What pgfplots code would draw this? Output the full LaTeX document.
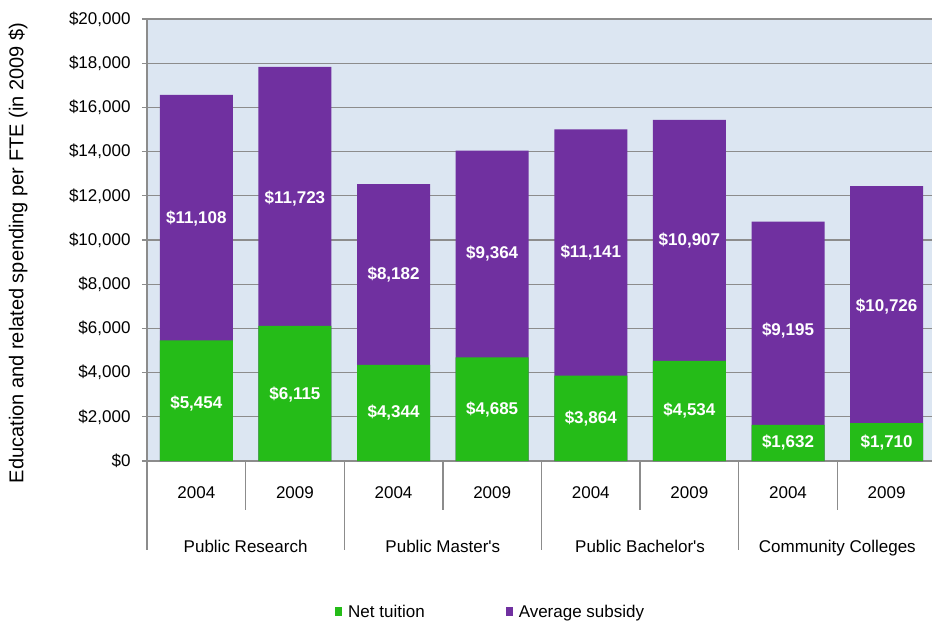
\documentclass[border=0pt]{standalone}
\usepackage{fontspec}
\setmainfont{Liberation Sans}
\usepackage{pgfplots}
\pgfplotsset{compat=1.18}
\definecolor{tuit}{HTML}{25BC18}
\definecolor{subs}{HTML}{7030A0}
\definecolor{bgc}{HTML}{DCE6F2}
\definecolor{gridc}{HTML}{8C8C8C}
\begin{document}
\begin{tikzpicture}
\begin{axis}[
 name=main,
 scale only axis, width=785pt, height=442pt,
 xmin=-0.5, xmax=7.46, ymin=0, ymax=20000,
 clip=false,
 axis x line*=bottom, axis y line*=left,
 axis line style={gridc, line width=1.3pt},
 axis background/.style={fill=bgc},
 ymajorgrids, grid style={gridc, line width=1.3pt},
 ytick={0,2000,...,20000},
 scaled y ticks=false,
 yticklabel={\$\pgfmathprintnumber{\tick}},
 /pgf/number format/fixed,
 /pgf/number format/1000 sep={,},
 /pgf/number format/assume math mode=true,
 tick align=outside, major tick length=5pt,
 ytick style={gridc, line width=1.3pt},
 xtick style={draw=none},
 xtick={0,...,7},
 xticklabels={2004,2009,2004,2009,2004,2009,2004,2009},
 xticklabel style={anchor=center, yshift=-27pt},
 yticklabel style={xshift=-8pt},
 tick label style={font=\fontsize{17}{20}\selectfont},
 ylabel={Education and related spending per FTE (in 2009 \$)},
 ylabel style={at={(axis description cs:-0.1643,0.4706)}, anchor=center, font=\fontsize{20}{22}\selectfont},
 legend columns=2,
 reverse legend,
 legend style={at={(axis description cs:0.2395,-0.3416)}, anchor=west, draw=none, fill=none,
   font=\fontsize{17}{20}\selectfont, inner sep=0pt,
   /tikz/every odd column/.append style={column sep=4pt},
   /tikz/every even column/.append style={column sep=79pt}},
]
\addplot[ybar, bar width=73pt, bar shift=0pt, fill=subs, draw=none,
  legend image code/.code={\fill[subs] (0pt,-4.5pt) rectangle (7pt,4.5pt);}]
  coordinates {(0,16562) (1,17838) (2,12526) (3,14049) (4,15005) (5,15441) (6,10827) (7,12436)};
\addlegendentry{Average subsidy}
\addplot[ybar, bar width=73pt, bar shift=0pt, fill=tuit, draw=none,
  legend image code/.code={\fill[tuit] (0pt,-4.5pt) rectangle (7pt,4.5pt);}]
  coordinates {(0,5454) (1,6115) (2,4344) (3,4685) (4,3864) (5,4534) (6,1632) (7,1710)};
\addlegendentry{Net tuition}
\addplot[draw=none, mark=none, forget plot, nodes near coords, point meta=explicit symbolic,
  nodes near coords align=center,
  every node near coord/.append style={font=\bfseries\fontsize{17}{20}\selectfont, text=white}]
  coordinates {(0,2600) [\$5,454] (1,3000) [\$6,115] (2,2172) [\$4,344] (3,2342) [\$4,685]
               (4,1932) [\$3,864] (5,2267) [\$4,534] (6,816) [\$1,632] (7,855) [\$1,710]};
\addplot[draw=none, mark=none, forget plot, nodes near coords, point meta=explicit symbolic,
  nodes near coords align=center,
  every node near coord/.append style={font=\bfseries\fontsize{17}{20}\selectfont, text=white}]
  coordinates {(0,10950) [\$11,108] (1,11900) [\$11,723] (2,8435) [\$8,182] (3,9367) [\$9,364]
               (4,9434) [\$11,141] (5,9987) [\$10,907] (6,5900) [\$9,195] (7,7000) [\$10,726]};
\draw[gridc, line width=1.3pt] (axis cs:-0.5,0) -- ([yshift=-89pt]axis cs:-0.5,0);
\draw[gridc, line width=1.3pt] (axis cs:1.5,0) -- ([yshift=-89pt]axis cs:1.5,0);
\draw[gridc, line width=1.3pt] (axis cs:3.5,0) -- ([yshift=-89pt]axis cs:3.5,0);
\draw[gridc, line width=1.3pt] (axis cs:5.5,0) -- ([yshift=-89pt]axis cs:5.5,0);
\draw[gridc, line width=1.3pt] (axis cs:0.5,0) -- ([yshift=-49pt]axis cs:0.5,0);
\draw[gridc, line width=1.3pt] (axis cs:2.5,0) -- ([yshift=-49pt]axis cs:2.5,0);
\draw[gridc, line width=1.3pt] (axis cs:4.5,0) -- ([yshift=-49pt]axis cs:4.5,0);
\draw[gridc, line width=1.3pt] (axis cs:6.5,0) -- ([yshift=-49pt]axis cs:6.5,0);
\node[anchor=base, font=\fontsize{17}{20}\selectfont] at ([yshift=-91pt]axis cs:0.5,0) {Public Research};
\node[anchor=base, font=\fontsize{17}{20}\selectfont] at ([yshift=-91pt]axis cs:2.5,0) {Public Master\textquotesingle s};
\node[anchor=base, font=\fontsize{17}{20}\selectfont] at ([yshift=-91pt]axis cs:4.5,0) {Public Bachelor\textquotesingle s};
\node[anchor=base, font=\fontsize{17}{20}\selectfont] at ([yshift=-91pt]axis cs:6.5,0) {Community Colleges};
\end{axis}
\pgfresetboundingbox
\path ([xshift=-147pt,yshift=-162pt]main.south west) rectangle ([yshift=19pt]main.north east);
\end{tikzpicture}
\end{document}
